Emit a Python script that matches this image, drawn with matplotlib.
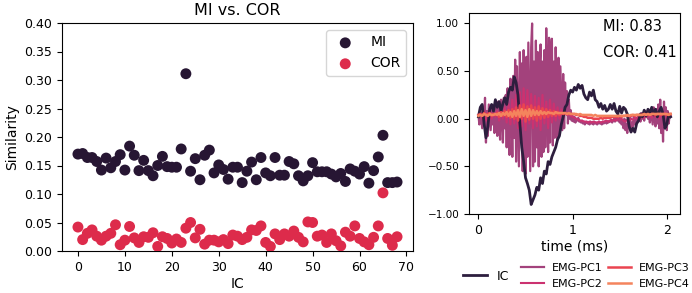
import numpy as np
import matplotlib
matplotlib.use("Agg")
import matplotlib.pyplot as plt

# ---------------- data: left panel ----------------
ic_index = list(range(69))
mi_values = [
    0.170, 0.171, 0.164, 0.164, 0.157, 0.142, 0.163, 0.146, 0.157, 0.169,
    0.142, 0.184, 0.168, 0.141, 0.159, 0.141, 0.132, 0.150, 0.166, 0.148,
    0.147, 0.147, 0.179, 0.311, 0.140, 0.162, 0.125, 0.168, 0.177, 0.137,
    0.151, 0.143, 0.126, 0.147, 0.147, 0.120, 0.140, 0.156, 0.125, 0.164,
    0.137, 0.132, 0.164, 0.133, 0.133, 0.157, 0.153, 0.132, 0.123, 0.132,
    0.155, 0.139, 0.139, 0.139, 0.135, 0.130, 0.136, 0.122, 0.144, 0.140,
    0.135, 0.148, 0.119, 0.141, 0.165, 0.203, 0.120, 0.120, 0.121]
cor_values = [
    0.042, 0.020, 0.031, 0.037, 0.026, 0.019, 0.026, 0.031, 0.046, 0.011,
    0.019, 0.043, 0.023, 0.015, 0.025, 0.024, 0.032, 0.008, 0.025, 0.022,
    0.014, 0.021, 0.015, 0.040, 0.050, 0.023, 0.038, 0.012, 0.019, 0.019,
    0.016, 0.020, 0.013, 0.028, 0.026, 0.020, 0.024, 0.037, 0.036, 0.044,
    0.015, 0.008, 0.030, 0.020, 0.030, 0.026, 0.035, 0.024, 0.016, 0.051,
    0.050, 0.026, 0.028, 0.015, 0.030, 0.018, 0.009, 0.033, 0.026, 0.044,
    0.022, 0.016, 0.011, 0.024, 0.044, 0.102, 0.022, 0.010, 0.025]
left_xticks = [0, 10, 20, 30, 40, 50, 60, 70]
left_yticks = [0.00, 0.05, 0.10, 0.15, 0.20, 0.25, 0.30, 0.35, 0.40]

# ---------------- data: right panel ----------------
dt_coarse = 0.02  # ms
dt_fine = 0.01    # ms
ic_trace = [
    0.02, 0.12, 0.15, -0.05, -0.20, -0.08, 0.10, 0.15, 0.08, 0.20,
    0.12, 0.18, 0.08, 0.16, 0.22, 0.15, 0.28, 0.33, 0.30, 0.44,
    0.38, 0.25, -0.05, -0.30, -0.45, -0.62, -0.68, -0.75, -0.90, -0.85,
    -0.80, -0.72, -0.75, -0.62, -0.68, -0.55, -0.58, -0.45, -0.48, -0.40,
    -0.35, -0.30, -0.22, -0.18, -0.06, 0.02, 0.12, 0.15, 0.25, 0.30,
    0.28, 0.33, 0.30, 0.36, 0.32, 0.35, 0.26, 0.22, 0.20, 0.28,
    0.24, 0.30, 0.20, 0.18, 0.12, 0.16, 0.10, 0.14, 0.08, 0.10,
    0.15, 0.10, 0.16, 0.08, 0.05, 0.13, 0.06, 0.12, 0.10, 0.05,
    -0.08, -0.14, -0.10, -0.14, -0.05, -0.02, 0.05, 0.02, 0.09, 0.03,
    0.10, 0.06, 0.12, 0.04, 0.10, 0.02, 0.08, 0.12, 0.05, -0.10,
    -0.06, 0.05, 0.02]
emg_pc1 = [
    0.04, -0.06, 0.10, 0.00, -0.10, 0.12, -0.04, 0.22, -0.25, 0.08,
    -0.18, 0.15, 0.02, -0.12, 0.10, -0.06, 0.14, -0.15, 0.05, 0.12,
    -0.18, 0.18, -0.05, -0.22, 0.20, 0.05, -0.25, 0.22, -0.10, 0.25,
    -0.30, 0.32, -0.12, -0.38, 0.42, 0.10, -0.40, 0.45, -0.20, 0.62,
    -0.45, 0.55, 0.05, -0.50, 0.70, -0.20, 0.58, -0.55, 0.72, -0.10,
    -0.58, 0.65, -0.40, 0.80, 0.10, -0.55, 0.75, 1.00, -0.50, 0.60,
    -0.45, 0.82, -0.30, 0.70, -0.50, 0.55, 0.78, -0.40, 0.60, -0.35,
    0.72, -0.30, 0.95, 0.40, -0.35, 0.85, -0.25, 0.70, 0.84, -0.28,
    0.60, -0.20, 0.75, 0.30, -0.22, 0.64, -0.15, 0.55, 0.20, -0.12,
    0.47, -0.10, 0.38, 0.05, 0.29, -0.05, 0.20, 0.00, 0.09, -0.02,
    0.03, -0.03, 0.02, -0.04, 0.00, -0.02, 0.01, -0.03, -0.02, -0.04,
    -0.02, -0.05, -0.03, -0.06, -0.04, -0.03, -0.05, -0.04, -0.06, -0.03,
    -0.05, -0.04, -0.06, -0.03, -0.05, -0.04, -0.06, -0.05, -0.03, -0.05,
    -0.04, -0.06, -0.03, -0.05, -0.04, -0.02, -0.05, -0.03, -0.04, -0.02,
    -0.03, -0.01, -0.04, -0.02, 0.00, -0.03, -0.01, 0.02, -0.02, 0.00,
    -0.04, 0.02, -0.06, -0.02, -0.10, 0.00, -0.12, -0.05, -0.15, -0.02,
    -0.10, 0.02, -0.14, -0.04, -0.08, 0.03, -0.06, 0.00, -0.04, 0.02,
    -0.02, 0.04, -0.03, 0.06, 0.00, 0.05, -0.02, 0.08, 0.02, 0.06,
    0.00, 0.08, -0.04, 0.10, 0.02, -0.06, 0.12, 0.00, -0.08, 0.10,
    -0.05, 0.15, -0.10, 0.20, -0.15, 0.05, -0.24, 0.18, -0.08, 0.12,
    -0.12, 0.08, -0.05, 0.04, 0.02]
emg_pc2 = [
    0.03, 0.06, 0.00, 0.08, -0.02, 0.05, 0.10, 0.00, 0.06, 0.02,
    0.08, -0.02, 0.10, 0.00, 0.12, -0.04, 0.15, -0.06, 0.20, -0.05,
    0.25, -0.10, 0.28, -0.08, 0.32, -0.12, 0.30, -0.05, 0.26, -0.10,
    0.24, -0.08, 0.22, -0.12, 0.25, -0.05, 0.18, -0.10, 0.20, -0.04,
    0.16, -0.02, 0.12, 0.00, 0.10, 0.02, 0.06, 0.04, 0.05, 0.03,
    0.02, 0.01, 0.00, -0.01, -0.02, -0.02, -0.03, -0.03, -0.04, -0.03,
    -0.04, -0.03, -0.04, -0.04, -0.03, -0.04, -0.03, -0.03, -0.02, -0.03,
    -0.02, -0.02, -0.01, -0.02, 0.00, -0.01, 0.00, -0.02, -0.03, -0.01,
    -0.02, 0.00, -0.01, 0.01, 0.00, 0.02, 0.01, 0.02, 0.01, 0.03,
    0.02, 0.04, 0.01, 0.05, 0.02, 0.06, 0.00, 0.05, 0.03, 0.06,
    0.02, 0.05, 0.03]
emg_pc3 = [
    0.04, 0.05, 0.03, 0.06, 0.04, 0.05, 0.06, 0.03, 0.05, 0.04,
    0.06, 0.02, 0.07, 0.03, 0.08, 0.02, 0.09, 0.01, 0.10, 0.00,
    0.12, -0.02, 0.14, 0.00, 0.15, -0.03, 0.13, -0.01, 0.14, 0.00,
    0.12, -0.02, 0.13, 0.00, 0.11, 0.01, 0.10, 0.02, 0.09, 0.03,
    0.08, 0.03, 0.07, 0.04, 0.06, 0.05, 0.06, 0.05, 0.05, 0.05,
    0.05, 0.05, 0.04, 0.04, 0.03, 0.03, 0.02, 0.02, 0.01, 0.01,
    0.01, 0.00, 0.00, 0.00, 0.00, 0.01, 0.00, 0.01, 0.01, 0.01,
    0.01, 0.02, 0.02, 0.02, 0.02, 0.03, 0.02, 0.03, 0.03, 0.03,
    0.03, 0.03, 0.04, 0.03, 0.04, 0.04, 0.04, 0.04, 0.05, 0.04,
    0.05, 0.04, 0.05, 0.05, 0.04, 0.05, 0.05, 0.04, 0.05, 0.05,
    0.04, 0.05, 0.05]
emg_pc4 = [
    0.03, 0.04, 0.03, 0.05, 0.04, 0.03, 0.05, 0.04, 0.04, 0.05,
    0.04, 0.06, 0.03, 0.06, 0.04, 0.07, 0.03, 0.07, 0.02, 0.08,
    0.03, 0.09, 0.02, 0.10, 0.03, 0.09, 0.02, 0.10, 0.03, 0.09,
    0.04, 0.08, 0.04, 0.08, 0.05, 0.07, 0.05, 0.07, 0.06, 0.06,
    0.05, 0.07, 0.06, 0.06, 0.06, 0.06, 0.06, 0.05, 0.06, 0.05,
    0.05, 0.05, 0.05, 0.04, 0.05, 0.04, 0.04, 0.04, 0.04, 0.04,
    0.04, 0.03, 0.04, 0.03, 0.03, 0.03, 0.03, 0.03, 0.03, 0.03,
    0.03, 0.03, 0.03, 0.03, 0.03, 0.03, 0.03, 0.03, 0.03, 0.04,
    0.03, 0.04, 0.04, 0.04, 0.04, 0.04, 0.04, 0.04, 0.05, 0.04,
    0.05, 0.04, 0.05, 0.05, 0.05, 0.05, 0.05, 0.05, 0.05, 0.05,
    0.05, 0.04, 0.05]
right_xticks = [0, 1, 2]
right_yticks = [-1.0, -0.5, 0.0, 0.5, 1.0]
right_yticklabels = ["\u22121.00", "\u22120.50", "0.00", "0.50", "1.00"]
mi_text = "MI: 0.83"
cor_text = "COR: 0.41"

# ---------------- styling ----------------
c_mi = "#271633"
c_cor = "#dd2b4b"
c_ic = "#2d1e3e"
c_pc1 = "#a3427c"
c_pc2 = "#cb3270"
c_pc3 = "#ea4450"
c_pc4 = "#f4845d"

W, H = 692, 293
fig = plt.figure(figsize=(W / 100, H / 100), dpi=100)


def fig_rect(x0, y0, x1, y1):
    return [x0 / W, 1 - y1 / H, (x1 - x0) / W, (y1 - y0) / H]


# ---------------- left panel ----------------
ax1 = fig.add_axes(fig_rect(62, 23, 413, 251))
ax1.scatter(ic_index, mi_values, s=62, color=c_mi, edgecolors="none", label="MI", zorder=3)
ax1.scatter(ic_index, cor_values, s=62, color=c_cor, edgecolors="none", label="COR", zorder=3)
ax1.set_xlim(-3.4, 71.4)
ax1.set_ylim(0, 0.40)
ax1.set_xticks(left_xticks)
ax1.set_yticks(left_yticks)
ax1.set_yticklabels([f"{v:.2f}" for v in left_yticks])
ax1.tick_params(labelsize=9)
ax1.set_xlabel("IC", fontsize=10, labelpad=2)
ax1.set_ylabel("Similarity", fontsize=10)
ax1.set_title("MI vs. COR", fontsize=11.5)
ax1.legend(loc="upper right", fontsize=10)

# ---------------- right panel ----------------
ax2 = fig.add_axes(fig_rect(469, 13, 680, 214))
t_fine = np.arange(len(emg_pc1)) * dt_fine
t_coarse = np.arange(len(ic_trace)) * dt_coarse
l_pc1, = ax2.plot(t_fine, emg_pc1, color=c_pc1, lw=1.6, zorder=2.0, label="EMG-PC1")
l_pc2, = ax2.plot(t_coarse, emg_pc2, color=c_pc2, lw=1.5, zorder=2.1, label="EMG-PC2")
l_ic, = ax2.plot(t_coarse, ic_trace, color=c_ic, lw=2.0, zorder=2.5, label="IC")
l_pc3, = ax2.plot(t_coarse, emg_pc3, color=c_pc3, lw=1.8, zorder=2.6, label="EMG-PC3")
l_pc4, = ax2.plot(t_coarse, emg_pc4, color=c_pc4, lw=1.8, zorder=2.7, label="EMG-PC4")
ax2.set_xlim(-0.1, 2.14)
ax2.set_ylim(-1.0, 1.11)
ax2.set_xticks(right_xticks)
ax2.set_yticks(right_yticks)
ax2.set_yticklabels(right_yticklabels)
ax2.tick_params(axis="y", labelsize=7.5)
ax2.tick_params(axis="x", labelsize=9)
ax2.set_xlabel("time (ms)", fontsize=10, labelpad=2)
ax2.text(0.635, 0.935, mi_text, transform=ax2.transAxes, fontsize=10.5, va="center", ha="left")
ax2.text(0.635, 0.805, cor_text, transform=ax2.transAxes, fontsize=10.5, va="center", ha="left")

fig.legend(handles=[l_ic], loc="center left", bbox_to_anchor=(457 / W, 1 - 276 / H),
           frameon=False, fontsize=9, borderpad=0, handlelength=1.9, handletextpad=0.8)
fig.legend(handles=[l_pc1, l_pc2, l_pc3, l_pc4], ncol=2, loc="center left",
           bbox_to_anchor=(515 / W, 1 - 276 / H), frameon=False, fontsize=8,
           borderpad=0, handlelength=2.1, handletextpad=0.7, columnspacing=0.5,
           labelspacing=0.55)

fig.savefig("out.png", dpi=100)
